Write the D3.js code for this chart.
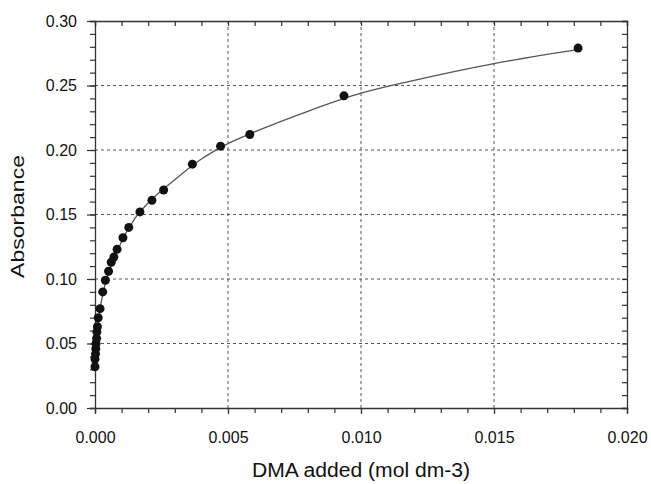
<!DOCTYPE html>
<html>
<head>
<meta charset="utf-8">
<script src="https://cdn.jsdelivr.net/npm/d3@7"></script>
<style>
  body { margin: 0; background: #fff; }
  svg { font-family: "Liberation Sans", Arial, sans-serif; }
</style>
</head>
<body>
<script>
// measured points (DMA added, absorbance)
const dmaAdded = [0.00000, 0.00000, 0.00002, 0.00003, 0.00004, 0.00006, 0.00007, 0.00009, 0.00012,
  0.00019, 0.00029, 0.00039, 0.00051, 0.00061, 0.00071, 0.00083, 0.00105, 0.00127, 0.00169,
  0.00214, 0.00258, 0.00366, 0.00472, 0.00582, 0.00936, 0.01816];
const absorbance = [0.032, 0.038, 0.042, 0.046, 0.050, 0.054, 0.059, 0.063, 0.070,
  0.077, 0.090, 0.099, 0.106, 0.113, 0.117, 0.123, 0.132, 0.140, 0.152,
  0.161, 0.169, 0.189, 0.203, 0.212, 0.242, 0.279];

// fitted curve
const fitX = [0, 0.00005, 0.0001, 0.0002, 0.0003, 0.0005, 0.00075, 0.001, 0.0015, 0.002, 0.003,
  0.004, 0.005, 0.006, 0.008, 0.010, 0.012, 0.015, 0.0182];
const fitY = [0.033, 0.050, 0.062, 0.078, 0.089, 0.104, 0.117, 0.129, 0.147, 0.159, 0.177,
  0.193, 0.205, 0.214, 0.230, 0.244, 0.254, 0.267, 0.278];

const xTicks = [0, 0.005, 0.010, 0.015, 0.020];
const yTicks = [0, 0.05, 0.10, 0.15, 0.20, 0.25, 0.30];

const W = 651, H = 484;
const m = {left: 95, top: 21, right: 24, bottom: 76};
const w = W - m.left - m.right, h = H - m.top - m.bottom;

const svg = d3.select("body").append("svg").attr("width", W).attr("height", H);
const g = svg.append("g").attr("transform", `translate(${m.left},${m.top})`);

const x = d3.scaleLinear().domain([0, 0.020]).range([0, w]);
const y = d3.scaleLinear().domain([0, 0.30]).range([h, 0]);

const xMinor = d3.range(0, 0.0205, 0.001);
const yMinor = d3.range(0, 0.305, 0.01);

// grid
g.append("g").selectAll("line").data(xTicks.slice(1, -1)).join("line")
  .attr("x1", d => x(d)).attr("x2", d => x(d)).attr("y1", 0).attr("y2", h)
  .attr("stroke", "#555").attr("stroke-dasharray", "3,3");
g.append("g").selectAll("line").data(yTicks.slice(1, -1)).join("line")
  .attr("y1", d => y(d)).attr("y2", d => y(d)).attr("x1", 0).attr("x2", w)
  .attr("stroke", "#555").attr("stroke-dasharray", "3,3");

// axes
const axStyle = sel => {
  sel.select(".domain").attr("stroke", "#333").attr("stroke-width", 1.3);
  sel.selectAll(".tick line").attr("stroke", "#333").attr("stroke-width", 1.2);
  sel.selectAll("text").attr("fill", "#111").attr("font-size", 16)
    .attr("font-family", "'Liberation Sans', Arial, sans-serif");
};

g.append("g").attr("transform", `translate(0,${h})`)
  .call(d3.axisBottom(x).tickValues(xMinor).tickSize(5).tickFormat(""))
  .call(axStyle);
g.append("g").attr("transform", `translate(0,${h})`)
  .call(d3.axisBottom(x).tickValues(xTicks).tickSize(6).tickPadding(18).tickFormat(d3.format(".3f")))
  .call(axStyle).call(s => s.select(".domain").remove());

g.append("g")
  .call(d3.axisLeft(y).tickValues(yMinor).tickSize(5).tickFormat(""))
  .call(axStyle);
g.append("g")
  .call(d3.axisLeft(y).tickValues(yTicks).tickSize(8).tickPadding(10).tickFormat(d3.format(".2f")))
  .call(axStyle).call(s => s.select(".domain").remove());

// mirrored ticks pointing inwards
g.append("g")
  .call(d3.axisTop(x).tickValues(xMinor).tickSize(-5).tickFormat(""))
  .call(axStyle);
g.append("g").attr("transform", `translate(${w},0)`)
  .call(d3.axisRight(y).tickValues(yMinor).tickSize(-5).tickFormat(""))
  .call(axStyle);

// fitted line
const line = d3.line().x(d => x(d[0])).y(d => y(d[1])).curve(d3.curveMonotoneX);
g.append("path").datum(d3.zip(fitX, fitY))
  .attr("d", line).attr("fill", "none").attr("stroke", "#555").attr("stroke-width", 1.3);

// points
g.append("g").selectAll("circle").data(d3.zip(dmaAdded, absorbance)).join("circle")
  .attr("cx", d => x(d[0])).attr("cy", d => y(d[1])).attr("r", 4.5)
  .attr("fill", "#111");

// axis titles
svg.append("text").attr("x", 361).attr("y", 477)
  .attr("text-anchor", "middle").attr("font-size", 20).attr("fill", "#111")
  .attr("textLength", 218).attr("lengthAdjust", "spacingAndGlyphs")
  .text("DMA added (mol dm-3)");
svg.append("text").attr("transform", "translate(24,216.5) rotate(-90)")
  .attr("text-anchor", "middle").attr("font-size", 18).attr("fill", "#111")
  .attr("textLength", 123).attr("lengthAdjust", "spacingAndGlyphs")
  .text("Absorbance");
</script>
</body>
</html>
